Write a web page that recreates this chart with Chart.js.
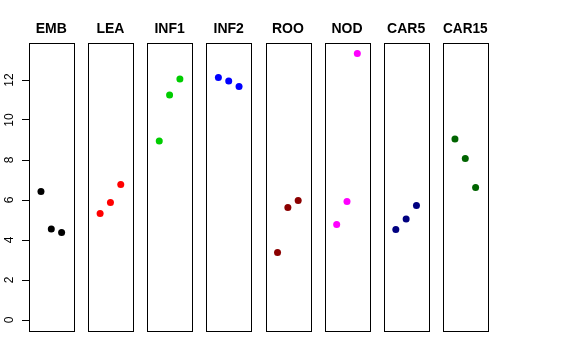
<!DOCTYPE html>
<html>
<head>
<meta charset="utf-8">
<script src="https://cdn.jsdelivr.net/npm/chart.js@4/dist/chart.umd.min.js"></script>
<style>
  html, body { margin: 0; padding: 0; background: #fff; }
  #wrap { position: relative; width: 576px; height: 360px; overflow: hidden; }
  #wrap canvas { position: absolute; top: 0; }
</style>
</head>
<body>
<div id="wrap"></div>
<script>
const groups = ['EMB', 'LEA', 'INF1', 'INF2', 'ROO', 'NOD', 'CAR5', 'CAR15'];
const colors = ['#000000', '#ff0000', '#00cd00', '#0000ff', '#8b0000', '#ff00ff', '#000080', '#006400'];
const xPos = [1, 2, 3];

const emb = [6.42, 4.55, 4.37];
const lea = [5.32, 5.88, 6.78];
const inf1 = [8.95, 11.25, 12.05];
const inf2 = [12.12, 11.95, 11.68];
const roo = [3.38, 5.63, 5.97];
const nod = [4.77, 5.92, 13.32];
const car5 = [4.53, 5.05, 5.72];
const car15 = [9.05, 8.07, 6.62];
const values = [emb, lea, inf1, inf2, roo, nod, car5, car15];

const yTicks = [0, 2, 4, 6, 8, 10, 12];

const wrap = document.getElementById('wrap');

// draws the panel frame
const boxPlugin = {
  id: 'box',
  afterDatasetsDraw(chart) {
    const a = chart.chartArea;
    const ctx = chart.ctx;
    ctx.save();
    ctx.strokeStyle = '#000';
    ctx.lineWidth = 1;
    ctx.strokeRect(Math.round(a.left) + 0.5, Math.round(a.top) + 0.5,
      Math.round(a.right - a.left), Math.round(a.bottom - a.top));
    ctx.restore();
  }
};

// rotated y tick labels like R's axis()
const yLabels = {
  id: 'yLabels',
  afterDraw(chart) {
    const s = chart.scales.y;
    if (!s.options.display) return;
    const ctx = chart.ctx;
    ctx.save();
    ctx.fillStyle = '#000';
    ctx.font = '12px "Liberation Sans", Arial, sans-serif';
    ctx.textAlign = 'center';
    ctx.textBaseline = 'alphabetic';
    yTicks.forEach(v => {
      const y = s.getPixelForValue(v);
      ctx.save();
      ctx.translate(13, y);
      ctx.rotate(-Math.PI / 2);
      ctx.fillText(String(v), 0, 0);
      ctx.restore();
    });
    ctx.restore();
  }
};

const panelW = 44.6;
const step = 59.14;
const firstLeft = 29;

groups.forEach((g, i) => {
  const first = i === 0;
  const boxLeft = firstLeft + i * step;
  const canvasLeft = first ? 0 : Math.floor(boxLeft) - 10;
  const canvasW = first ? 84 : 66;
  const padLeft = first ? 0 : boxLeft - canvasLeft;
  const padRight = canvasW - (first ? 29 : padLeft) - panelW;

  const cv = document.createElement('canvas');
  cv.width = canvasW;
  cv.height = 360;
  cv.style.left = canvasLeft + 'px';
  cv.style.width = canvasW + 'px';
  cv.style.height = '360px';
  wrap.appendChild(cv);

  const yScale = {
    type: 'linear',
    min: -0.55,
    max: 13.85,
    display: first
  };
  if (first) {
    Object.assign(yScale, {
      afterBuildTicks: s => { s.ticks = yTicks.map(v => ({ value: v })); },
      afterFit: s => { s.width = 29; },
      ticks: { display: false },
      border: { display: false },
      grid: { drawOnChartArea: false, drawTicks: true, tickLength: 7, color: '#000', lineWidth: 1 }
    });
  }

  new Chart(cv.getContext('2d'), {
    type: 'scatter',
    data: {
      datasets: [{
        label: g,
        data: xPos.map((x, k) => ({ x: x, y: values[i][k] })),
        backgroundColor: colors[i],
        borderColor: colors[i],
        pointRadius: 3.5,
        pointHoverRadius: 3.5,
        borderWidth: 0
      }]
    },
    options: {
      responsive: false,
      animation: false,
      devicePixelRatio: 1,
      layout: { padding: { left: padLeft, right: padRight, top: 21.2, bottom: 29 } },
      scales: {
        x: { type: 'linear', min: -0.16, max: 4.16, display: false },
        y: yScale
      },
      plugins: {
        legend: { display: false },
        tooltip: { enabled: false },
        title: {
          display: true,
          text: g,
          fullSize: false,
          color: '#000',
          font: { family: '"Liberation Sans", Arial, sans-serif', size: 14, weight: 'bold', lineHeight: 1.2 },
          padding: { top: 0, bottom: 5 }
        }
      }
    },
    plugins: [boxPlugin, yLabels]
  });
});
</script>
</body>
</html>
